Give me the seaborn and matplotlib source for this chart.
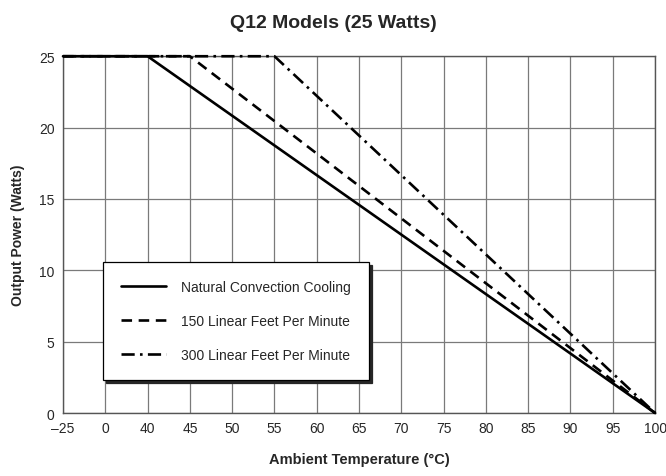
import numpy as np
import pandas as pd
import matplotlib
matplotlib.use('Agg')
import matplotlib.pyplot as plt
import seaborn as sns

# Tick temperatures on the (non-linear) x axis
tick_temps = [-25, 0, 40, 45, 50, 55, 60, 65, 70, 75, 80, 85, 90, 95, 100]
y_ticks = [0, 5, 10, 15, 20, 25]

# Derating curves: breakpoints (temperature, watts)
natural_temp = [-25, 40, 100]
natural_watts = [25, 25, 0]
lfm150_temp = [-25, 45, 100]
lfm150_watts = [25, 25, 0]
lfm300_temp = [-25, 55, 100]
lfm300_watts = [25, 25, 0]

labels = ['Natural Convection Cooling', '150 Linear Feet Per Minute',
          '300 Linear Feet Per Minute']

sns.set_style('white')
plt.rcParams['font.family'] = ['Liberation Sans', 'DejaVu Sans']

# Build long-form table; x axis is evenly spaced per tick, so map temps to tick index
tick_pos = np.arange(len(tick_temps))
rows = []
for lab, t, w in zip(labels, [natural_temp, lfm150_temp, lfm300_temp],
                     [natural_watts, lfm150_watts, lfm300_watts]):
    for ti, wi in zip(t, w):
        rows.append({'Series': lab, 'pos': np.interp(ti, tick_temps, tick_pos), 'Watts': wi})
df = pd.DataFrame(rows)

fig = plt.figure(figsize=(6.66, 4.77), dpi=100)
ax = fig.add_axes([0.0946, 0.132, 0.889, 0.748])

dashes = {labels[0]: '', labels[1]: (4, 2.5), labels[2]: (5, 2, 1, 2)}
sns.lineplot(data=df, x='pos', y='Watts', style='Series', dashes=dashes,
             color='black', linewidth=1.9, sort=False, ax=ax, legend=True)
for line in ax.get_lines():
    line.set_clip_on(False)
    line.set_zorder(3)

ax.set_xlim(0, len(tick_temps) - 1)
ax.set_ylim(0, 25)
ax.set_xticks(tick_pos)
ax.set_xticklabels([str(t).replace('-', '\u2013') for t in tick_temps])
ax.set_yticks(y_ticks)
ax.tick_params(axis='both', length=0, labelsize=10, pad=6)
ax.grid(True, color='#7a7a7a', linewidth=0.9)
for s in ax.spines.values():
    s.set_color('#555555')
    s.set_linewidth(1.0)

ax.set_xlabel('Ambient Temperature (\u00b0C)', fontsize=10.5, fontweight='bold', labelpad=12)
ax.set_ylabel('Output Power (Watts)', fontsize=10, fontweight='bold', labelpad=10)
fig.suptitle('Q12 Models (25 Watts)', fontsize=14, fontweight='bold', y=0.968)

handles, _ = ax.get_legend_handles_labels()
leg = ax.legend(handles=handles, labels=labels, loc='lower left',
                bbox_to_anchor=(0.068, 0.092), fontsize=10, frameon=True,
                fancybox=False, edgecolor='black', handlelength=3.2,
                handletextpad=1.1, labelspacing=1.45, borderpad=1.3,
                borderaxespad=0, shadow={'color': '0.15', 'alpha': 1.0})
leg.get_frame().set_linewidth(0.9)

fig.savefig('out.png', dpi=100)
